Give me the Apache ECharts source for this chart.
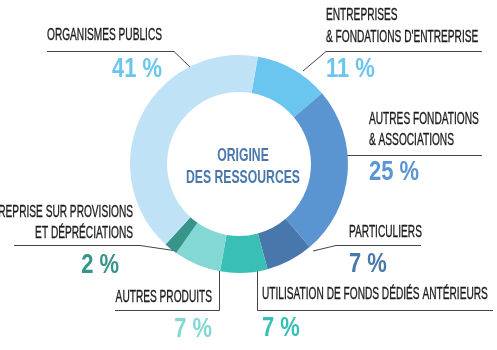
<!DOCTYPE html>
<html><head><meta charset="utf-8">
<script src="https://cdn.jsdelivr.net/npm/echarts@6/dist/echarts.min.js"></script>
<style>html,body{margin:0;padding:0;background:#fff}#c{width:497px;height:350px}</style>
</head><body><div id="c"></div>
<script>
const categories = ["ENTREPRISES & FONDATIONS D'ENTREPRISE","AUTRES FONDATIONS & ASSOCIATIONS","PARTICULIERS","UTILISATION DE FONDS DÉDIÉS ANTÉRIEURS","AUTRES PRODUITS","REPRISE SUR PROVISIONS ET DÉPRÉCIATIONS","ORGANISMES PUBLICS"];
const values = [11, 25, 7, 7, 7, 2, 41];
const colors = ["#6ac5ef","#5a95d1","#4878ab","#39bfb5","#84d8d4","#379489","#bfe2f7"];
const percentLabels = values.map(v => v + " %");

const FONT = '"Liberation Sans",Arial,sans-serif';
const lineColor = "#444";
const txtColor = "#1b1b1b";

const mc = document.createElement('canvas').getContext('2d');
function measure(t, f){ mc.font = f; return mc.measureText(t).width; }
const labelScale = 115 / measure("ORGANISMES PUBLICS", '17px ' + FONT);
const pctScale = 50 / measure("41 %", 'bold 27px ' + FONT);
const titleScale = 114 / measure("DES RESSOURCES", 'bold 19px ' + FONT);

function txt(text, x, y, size, color, align, weight, sc, sw) {
  return {type:'text', z:10, x:x, y:y, scaleX:sc, scaleY:1,
    style:{text:text, x:0, y:0, fill:color, stroke: sw ? color : null, lineWidth: sw || 0,
      textAlign:align||'left', textVerticalAlign:'middle', font:(weight||'normal')+' '+size+'px '+FONT}};
}
function lab(text, x, y, align){ return txt(text, x, y, 17, txtColor, align, 'normal', labelScale, 0.35); }
function pct(text, x, y, color, align){ return txt(text, x, y, 27, color, align, 'bold', pctScale); }
function pl(points) {
  return {type:'polyline', z:1, shape:{points:points}, style:{stroke:lineColor, lineWidth:1, fill:null}};
}

const graphics = [
  txt("ORIGINE", 243, 155.5, 19, "#4a78ad", 'center', 'bold', titleScale),
  txt("DES RESSOURCES", 243, 178, 19, "#4a78ad", 'center', 'bold', titleScale),
  lab("ORGANISMES PUBLICS", 47, 35.5),
  pl([[47,51.5],[174,51.5],[190,67]]),
  pct(percentLabels[6], 162, 69.5, colors[0], 'right'),
  lab("ENTREPRISES", 326, 15.5),
  lab("& FONDATIONS D'ENTREPRISE", 326, 37),
  pl([[303,71],[326,51.5],[482,51.5]]),
  pct(percentLabels[0], 326, 69.5, colors[0], 'left'),
  lab("AUTRES FONDATIONS", 369, 119),
  lab("& ASSOCIATIONS", 369, 140.5),
  pl([[345,155.5],[482,155.5]]),
  pct(percentLabels[1], 369, 173, colors[1], 'left'),
  lab("PARTICULIERS", 349, 232),
  pl([[313,251],[336,245.5],[421,245.5]]),
  pct(percentLabels[2], 349, 265, colors[2], 'left'),
  lab("UTILISATION DE FONDS DÉDIÉS ANTÉRIEURS", 262, 294.7),
  pl([[257.5,270],[257.5,310.5],[493,310.5]]),
  pct(percentLabels[3], 262, 329, colors[3], 'left'),
  lab("AUTRES PRODUITS", 212, 297, 'right'),
  pl([[219.5,270],[219.5,310.5],[115,310.5]]),
  pct(percentLabels[4], 212, 329.5, colors[4], 'right'),
  lab("REPRISE SUR PROVISIONS", 133, 212, 'right'),
  lab("ET DÉPRÉCIATIONS", 133, 233, 'right'),
  pl([[14,245.5],[140,245.5],[177,251]]),
  pct(percentLabels[5], 119, 266, colors[5], 'right')
];

const chart = echarts.init(document.getElementById('c'), null, {renderer:'canvas'});
chart.setOption({
  animation:false,
  backgroundColor:'#fff',
  graphic: graphics,
  series:[{
    type:'pie',
    z:5,
    center:[239,164],
    radius:[72,109],
    startAngle:80,
    clockwise:true,
    label:{show:false},
    labelLine:{show:false},
    emphasis:{disabled:true},
    itemStyle:{borderWidth:0},
    data: categories.map((c,i)=>({name:c, value:values[i], itemStyle:{color:colors[i]}}))
  }]
});
</script></body></html>
